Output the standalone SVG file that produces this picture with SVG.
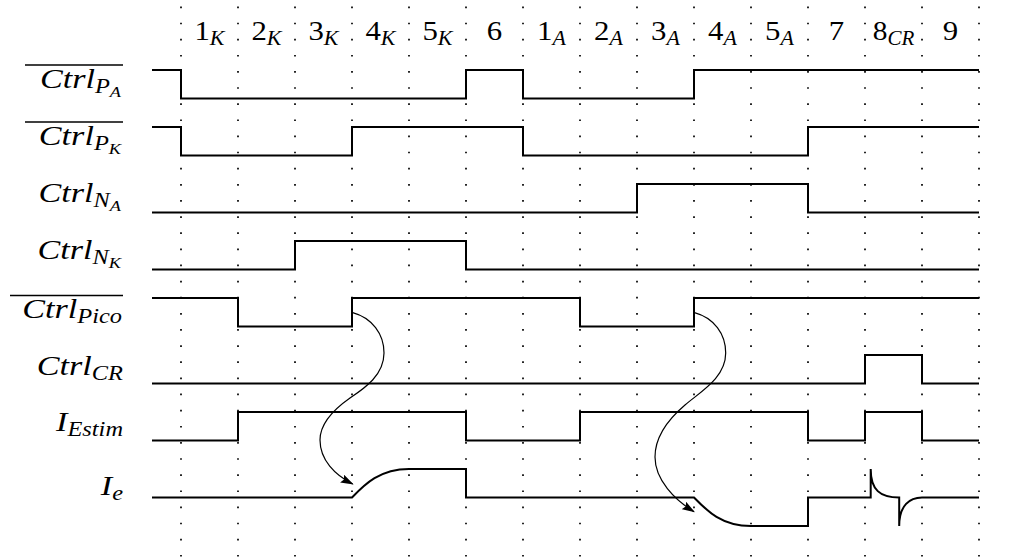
<svg xmlns="http://www.w3.org/2000/svg" width="1033" height="559" viewBox="0 0 1033 559">
<style>
.grid line{stroke:#000;stroke-width:1.7;stroke-dasharray:1.7 14.43;fill:none}
.sig{fill:none;stroke:#000;stroke-width:2;stroke-linejoin:miter}
.arr{fill:none;stroke:#000;stroke-width:1.2}
text{font-family:"Liberation Serif",serif;font-size:28px;fill:#000}
.it{font-style:italic}
.s{font-size:20px}
.ss{font-size:15px}
.ovl{stroke:#000;stroke-width:1.3}
</style>
<defs>
<marker id="ah" viewBox="0 0 12 8" refX="11" refY="4" markerWidth="13" markerHeight="9" markerUnits="userSpaceOnUse" orient="auto">
<path d="M0,0 L12,4 L0,8 L2,4 z" fill="#000"/>
</marker>
</defs>
<rect width="1033" height="559" fill="#fff"/>
<g class="grid" id="grid">
<line x1="181" y1="6.5" x2="181" y2="559"/>
<line x1="238" y1="6.5" x2="238" y2="559"/>
<line x1="295" y1="6.5" x2="295" y2="559"/>
<line x1="352" y1="6.5" x2="352" y2="559"/>
<line x1="409" y1="6.5" x2="409" y2="559"/>
<line x1="466" y1="6.5" x2="466" y2="559"/>
<line x1="523" y1="6.5" x2="523" y2="559"/>
<line x1="580" y1="6.5" x2="580" y2="559"/>
<line x1="637" y1="6.5" x2="637" y2="559"/>
<line x1="694" y1="6.5" x2="694" y2="559"/>
<line x1="751" y1="6.5" x2="751" y2="559"/>
<line x1="808" y1="6.5" x2="808" y2="559"/>
<line x1="865" y1="6.5" x2="865" y2="559"/>
<line x1="922" y1="6.5" x2="922" y2="559"/>
<line x1="979" y1="6.5" x2="979" y2="559"/>
</g>
<g id="phases">
<text transform="translate(209.5,40) scale(1.1,1)" text-anchor="middle">1<tspan class="it s" dy="5">K</tspan></text>
<text transform="translate(266.5,40) scale(1.1,1)" text-anchor="middle">2<tspan class="it s" dy="5">K</tspan></text>
<text transform="translate(323.5,40) scale(1.1,1)" text-anchor="middle">3<tspan class="it s" dy="5">K</tspan></text>
<text transform="translate(380.5,40) scale(1.1,1)" text-anchor="middle">4<tspan class="it s" dy="5">K</tspan></text>
<text transform="translate(437.5,40) scale(1.1,1)" text-anchor="middle">5<tspan class="it s" dy="5">K</tspan></text>
<text transform="translate(494.5,40) scale(1.1,1)" text-anchor="middle">6</text>
<text transform="translate(551.5,40) scale(1.1,1)" text-anchor="middle">1<tspan class="it s" dy="5">A</tspan></text>
<text transform="translate(608.5,40) scale(1.1,1)" text-anchor="middle">2<tspan class="it s" dy="5">A</tspan></text>
<text transform="translate(665.5,40) scale(1.1,1)" text-anchor="middle">3<tspan class="it s" dy="5">A</tspan></text>
<text transform="translate(722.5,40) scale(1.1,1)" text-anchor="middle">4<tspan class="it s" dy="5">A</tspan></text>
<text transform="translate(779.5,40) scale(1.1,1)" text-anchor="middle">5<tspan class="it s" dy="5">A</tspan></text>
<text transform="translate(836.5,40) scale(1.1,1)" text-anchor="middle">7</text>
<text transform="translate(893.5,40) scale(1.05,1)" text-anchor="middle">8<tspan class="it s" dy="5">CR</tspan></text>
<text transform="translate(950.5,40) scale(1.1,1)" text-anchor="middle">9</text>
</g>
<g id="ctrl_pa">
<line class="ovl" x1="25" y1="65" x2="123" y2="65"/>
<text class="it" transform="translate(121,88) scale(1.22,1)" text-anchor="end">Ctrl<tspan class="s" dy="5">P</tspan><tspan class="ss" dy="4">A</tspan></text>
<path class="sig" d="M152,70 H181 V98.5 H466 V70 H523 V98.5 H694 V70 H979"/>
</g>
<g id="ctrl_pk">
<line class="ovl" x1="25" y1="122" x2="123" y2="122"/>
<text class="it" transform="translate(121,145) scale(1.22,1)" text-anchor="end">Ctrl<tspan class="s" dy="5">P</tspan><tspan class="ss" dy="4">K</tspan></text>
<path class="sig" d="M152,127 H181 V155.5 H352 V127 H523 V155.5 H808 V127 H979"/>
</g>
<g id="ctrl_na">
<text class="it" transform="translate(121,202) scale(1.22,1)" text-anchor="end">Ctrl<tspan class="s" dy="5">N</tspan><tspan class="ss" dy="4">A</tspan></text>
<path class="sig" d="M152,212.5 H637 V184 H808 V212.5 H979"/>
</g>
<g id="ctrl_nk">
<text class="it" transform="translate(121,259) scale(1.22,1)" text-anchor="end">Ctrl<tspan class="s" dy="5">N</tspan><tspan class="ss" dy="4">K</tspan></text>
<path class="sig" d="M152,269.5 H295 V241 H466 V269.5 H979"/>
</g>
<g id="ctrl_pico">
<line class="ovl" x1="10" y1="295.5" x2="123" y2="295.5"/>
<text class="it" transform="translate(122,318) scale(1.22,1)" text-anchor="end">Ctrl<tspan class="s" dy="5">Pico</tspan></text>
<path class="sig" d="M152,298 H238 V326.5 H352 V298 H580 V326.5 H694 V298 H979"/>
</g>
<g id="ctrl_cr">
<text class="it" transform="translate(123,375) scale(1.22,1)" text-anchor="end">Ctrl<tspan class="s" dy="5">CR</tspan></text>
<path class="sig" d="M152,383.5 H865 V355 H922 V383.5 H979"/>
</g>
<g id="i_estim">
<text class="it" transform="translate(123,431) scale(1.22,1)" text-anchor="end">I<tspan class="s" dy="5">Estim</tspan></text>
<path class="sig" d="M152,440.5 H238 V412 H466 V440.5 H580 V412 H808 V440.5 H865 V412 H922 V440.5 H979"/>
</g>
<g id="i_e">
<text class="it" transform="translate(123,495) scale(1.22,1)" text-anchor="end">I<tspan class="s" dy="5">e</tspan></text>
<path class="sig" d="M152,497.5 H352 C365,484 380,469 409,469 H466 V497.5 H694 C707,511 722,526 751,526 H808 V497.5 H870.7 V469 C870.7,490 880,497.5 899.2,497.5 V526 C899.2,505 910,497.5 922,497.5 H979"/>
</g>
<g id="connectors">
<path class="arr" marker-end="url(#ah)" d="M352.7,312.7 C372,318 384,334 384,353 C384,375 365,388 350,398 C330,412 320,425 320,440 C320,460 335,475 352.7,484"/>
<path class="arr" marker-end="url(#ah)" d="M694.5,312.7 C714,318 725.7,334 725.7,353 C725.7,378 700,392 685,405 C665,422 655,440 655,457 C655,480 675,500 694,511.7"/>
</g>
</svg>
